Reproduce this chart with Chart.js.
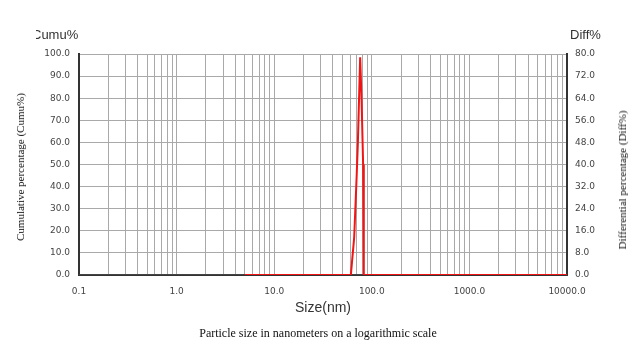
<!DOCTYPE html>
<html>
<head>
<meta charset="utf-8">
<script src="https://cdn.jsdelivr.net/npm/chart.js@4/dist/chart.umd.min.js"></script>
<style>
  html,body{margin:0;padding:0;background:#fff;}
  #wrap{position:relative;width:640px;height:360px;overflow:hidden;}
  canvas{position:absolute;left:0;top:0;}
  .t{position:absolute;white-space:nowrap;}
  .sans{font-family:"Liberation Sans",Arial,sans-serif;color:#333;}
  .serif{font-family:"Liberation Serif","Times New Roman",serif;color:#111;}
</style>
</head>
<body>
<div id="wrap">
  <canvas id="c" width="640" height="360"></canvas>
  <div class="t" style="left:36px;top:27px;width:50px;height:18px;overflow:hidden;">
    <span class="sans" style="position:absolute;left:-4px;top:0;font-size:13px;">Cumu%</span>
  </div>
  <div class="t sans" style="left:570px;top:27px;font-size:13px;">Diff%</div>
  <div class="t sans" style="left:295px;top:299px;font-size:14px;">Size(nm)</div>
  <div class="t serif" style="left:318px;top:326px;font-size:12px;transform:translateX(-50%);">Particle size in nanometers on a logarithmic scale</div>
  <div class="t serif" style="left:20px;top:167px;font-size:11px;transform:translate(-50%,-50%) rotate(-90deg);">Cumulative percentage (Cumu%)</div>
  <div class="t serif" style="left:622px;top:180px;font-size:11px;transform:translate(-50%,-50%) rotate(-90deg);">Differential percentage (Diff%)</div>
</div>
<script>
// ---- data ----
const sizeTickLabels = ['0.1', '1.0', '10.0', '100.0', '1000.0', '10000.0'];
const cumuTicks = ['0.0','10.0','20.0','30.0','40.0','50.0','60.0','70.0','80.0','90.0','100.0'];
const diffTicks = ['0.0','8.0','16.0','24.0','32.0','40.0','48.0','56.0','64.0','72.0','80.0'];

// red distribution curve (size nm, value on Cumu% axis)
const redSizes  = [5, 61, 66, 70, 72, 76, 78.5, 81.5, 82.8, 10000];
const redValues = [0, 0, 17, 45, 60, 98.5, 80, 50, 0, 0];

// dark baseline curve
const baseSizes  = [0.1, 10000];
const baseValues = [0, 0];

const xMin = 0.1, xMax = 10000;

const redData = redSizes.map((s, i) => ({x: s, y: redValues[i]}));
const baseData = baseSizes.map((s, i) => ({x: s, y: baseValues[i]}));

// minor log grid values: 1..9 x each decade
function logGridValues(min, max) {
  const out = [];
  for (let e = Math.round(Math.log10(min)); e < Math.round(Math.log10(max)); e++) {
    for (let m = 1; m <= 9; m++) out.push(m * Math.pow(10, e));
  }
  out.push(max);
  return out;
}
const majorSet = {};
sizeTickLabels.forEach(l => { majorSet[Math.round(Math.log10(parseFloat(l)) * 1000)] = l; });

const tickFont = {family: '"DejaVu Sans", sans-serif', size: 9};
const tickColor = '#444';
const gridColor = '#a9a9a9';

new Chart(document.getElementById('c'), {
  type: 'line',
  data: {
    datasets: [
      {data: redData, borderColor: '#f01414', borderWidth: 2, pointRadius: 0, tension: 0, yAxisID: 'y', order: 0},
      {data: baseData, borderColor: '#444', borderWidth: 2, pointRadius: 0, tension: 0, yAxisID: 'y', order: 1}
    ]
  },
  options: {
    responsive: false,
    animation: false,
    devicePixelRatio: 1,
    layout: {padding: {top: 54, left: 0, right: 0, bottom: 0}},
    plugins: {legend: {display: false}, tooltip: {enabled: false}},
    scales: {
      x: {
        type: 'logarithmic',
        min: xMin, max: xMax,
        afterBuildTicks: s => { s.ticks = logGridValues(xMin, xMax).map(v => ({value: v})); },
        afterFit: s => { s.height = 85; },
        grid: {color: gridColor, lineWidth: 1, drawTicks: false},
        border: {color: '#333', width: 2},
        ticks: {
          autoSkip: false, maxRotation: 0, padding: 11, font: tickFont, color: tickColor,
          callback: function (v) {
            const k = Math.round(Math.log10(v) * 1000);
            return majorSet[k] !== undefined ? majorSet[k] : '';
          }
        }
      },
      y: {
        position: 'left',
        min: 0, max: 100,
        afterBuildTicks: s => { s.ticks = cumuTicks.map(t => ({value: parseFloat(t)})); },
        afterFit: s => { s.width = 79; },
        grid: {color: gridColor, lineWidth: 1, drawTicks: false},
        border: {color: '#333', width: 2},
        ticks: {padding: 9, font: tickFont, color: tickColor, callback: (v, i) => cumuTicks[i]}
      },
      y2: {
        position: 'right',
        min: 0, max: 80,
        afterBuildTicks: s => { s.ticks = diffTicks.map(t => ({value: parseFloat(t)})); },
        afterFit: s => { s.width = 73; },
        grid: {display: false, drawTicks: false},
        border: {color: '#333', width: 2},
        ticks: {padding: 8, font: tickFont, color: tickColor, callback: (v, i) => diffTicks[i]}
      }
    }
  }
});
</script>
</body>
</html>
